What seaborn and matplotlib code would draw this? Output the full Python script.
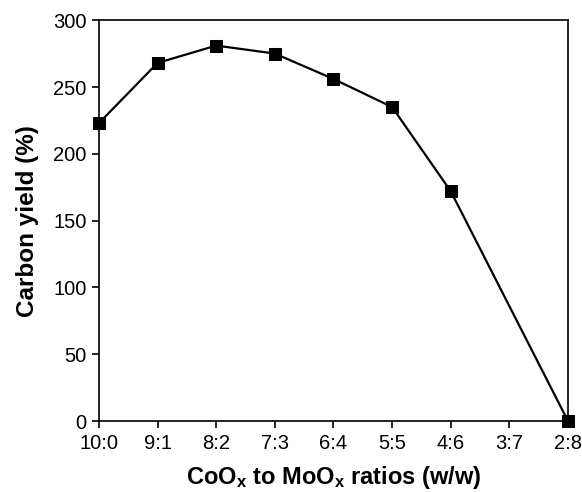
import numpy as np
import pandas as pd
import matplotlib
matplotlib.use("Agg")
import matplotlib.pyplot as plt
import seaborn as sns

# Ratio categories and measured carbon yield (3:7 not measured)
ratios = ["10:0", "9:1", "8:2", "7:3", "6:4", "5:5", "4:6", "3:7", "2:8"]
carbon_yield = [223, 268, 281, 275, 256, 235, 172, np.nan, 0]

df = pd.DataFrame({"ratio": ratios, "yield": carbon_yield})
df["pos"] = range(len(ratios))
df_clean = df.dropna(subset=["yield"])

sns.set_style("ticks")
plt.rcParams["font.family"] = ["Liberation Sans", "DejaVu Sans"]
plt.rcParams["mathtext.fontset"] = "custom"
plt.rcParams["mathtext.rm"] = "Liberation Sans:bold"
plt.rcParams["mathtext.bf"] = "Liberation Sans:bold"
plt.rcParams["mathtext.default"] = "bf"
plt.rcParams["text.color"] = "black"
plt.rcParams["axes.labelcolor"] = "black"

fig = plt.figure(figsize=(5.82, 4.92), dpi=100)
ax = fig.add_axes([0.170, 0.144, 0.806, 0.815])

sns.lineplot(data=df_clean, x="pos", y="yield", ax=ax, color="black",
             linewidth=1.6, marker="s", markersize=8.5, markeredgecolor="black",
             markerfacecolor="black", clip_on=False, zorder=5)

ax.set_xlim(0, len(ratios) - 1)
ax.set_ylim(0, 300)
ax.set_xticks(range(len(ratios)))
ax.set_xticklabels(ratios)
ax.set_yticks(range(0, 301, 50))
ax.tick_params(axis="both", labelsize=14.5, direction="out", length=5, width=1.2,
               colors="black", pad=4)
for s in ax.spines.values():
    s.set_linewidth(1.2)
    s.set_color("black")

ax.set_ylabel("Carbon yield (%)", fontsize=17.5, fontweight="bold", labelpad=10)
ax.set_xlabel("CoO$_\\mathbf{x}$ to MoO$_\\mathbf{x}$ ratios (w/w)", fontsize=17,
              fontweight="bold", labelpad=8)

fig.savefig("out.png", dpi=100)
